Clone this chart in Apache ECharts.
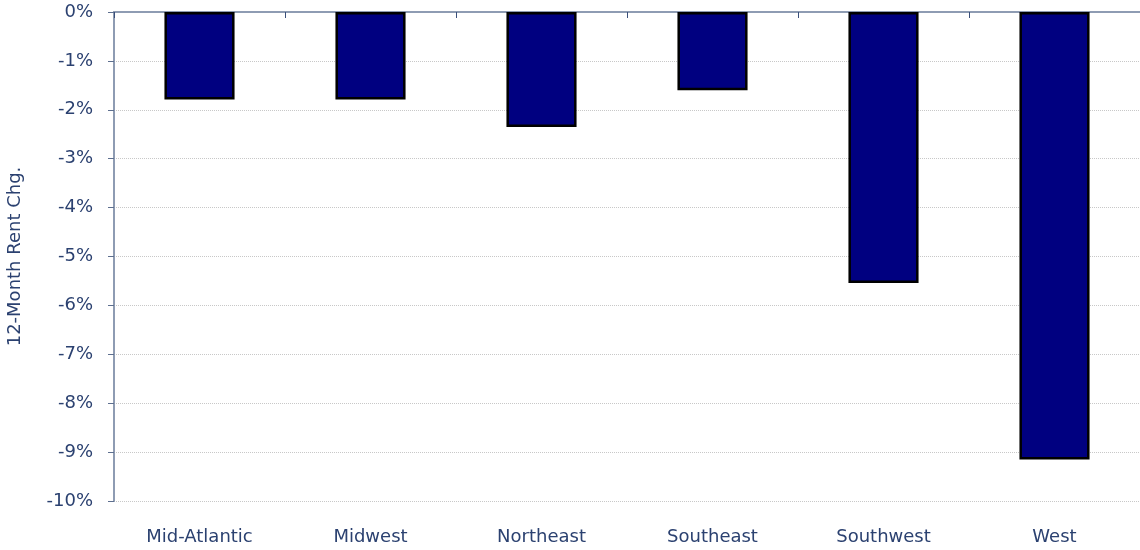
<!DOCTYPE html>
<html>
<head>
<meta charset="utf-8">
<script src="https://cdn.jsdelivr.net/npm/echarts@6/dist/echarts.min.js"></script>
<style>
  html, body { margin: 0; padding: 0; background: #fff; }
  #chart { width: 1140px; height: 550px; }
</style>
</head>
<body>
<div id="chart"></div>
<script>
// 地区
var regions = ['Mid-Atlantic', 'Midwest', 'Northeast', 'Southeast', 'Southwest', 'West'];
// 12个月租金变化 (%)
var rentChg = [-1.79, -1.79, -2.35, -1.60, -5.54, -9.15];
var yTicks = { min: -10, max: 0, step: 1 };

var textColor = '#2b4170';
var axisColor = '#8e9cb3';
var font = 'DejaVu Sans';

var myChart = echarts.init(document.getElementById('chart'));
var option = {
    animation: false,
    grid: { left: 114, right: 0, top: 12, bottom: 49, outerBoundsMode: 'none', containLabel: false },
    xAxis: [
        {
            // 底部标签
            type: 'category',
            data: regions,
            position: 'bottom',
            axisLine: { show: false },
            axisTick: { show: false },
            axisLabel: { color: textColor, fontFamily: font, fontSize: 18, margin: 27 }
        },
        {
            // 顶部的0%轴线
            type: 'category',
            data: regions,
            position: 'top',
            axisLine: { show: true, lineStyle: { color: axisColor, width: 2 } },
            axisTick: { show: true, inside: true, length: 6, lineStyle: { color: '#3a4f7a' } },
            axisLabel: { show: false }
        }
    ],
    yAxis: {
        type: 'value',
        min: yTicks.min,
        max: yTicks.max,
        interval: yTicks.step,
        name: '12-Month Rent Chg.',
        nameLocation: 'middle',
        nameGap: 90,
        nameTextStyle: { color: textColor, fontFamily: font, fontSize: 18 },
        axisLine: { show: true, lineStyle: { color: axisColor, width: 2 } },
        axisTick: { show: true, length: 6, lineStyle: { color: '#5d6f8f' } },
        axisLabel: { color: textColor, fontFamily: font, fontSize: 18, margin: 21, formatter: '{value}%' },
        splitLine: { show: true, lineStyle: { color: '#c8c8c8', type: 'dotted' } }
    },
    series: [
        {
            type: 'bar',
            data: rentChg,
            barWidth: '41%',
            itemStyle: { color: '#000080', borderColor: '#000', borderWidth: 2.5 }
        }
    ]
};
myChart.setOption(option);
</script>
</body>
</html>
